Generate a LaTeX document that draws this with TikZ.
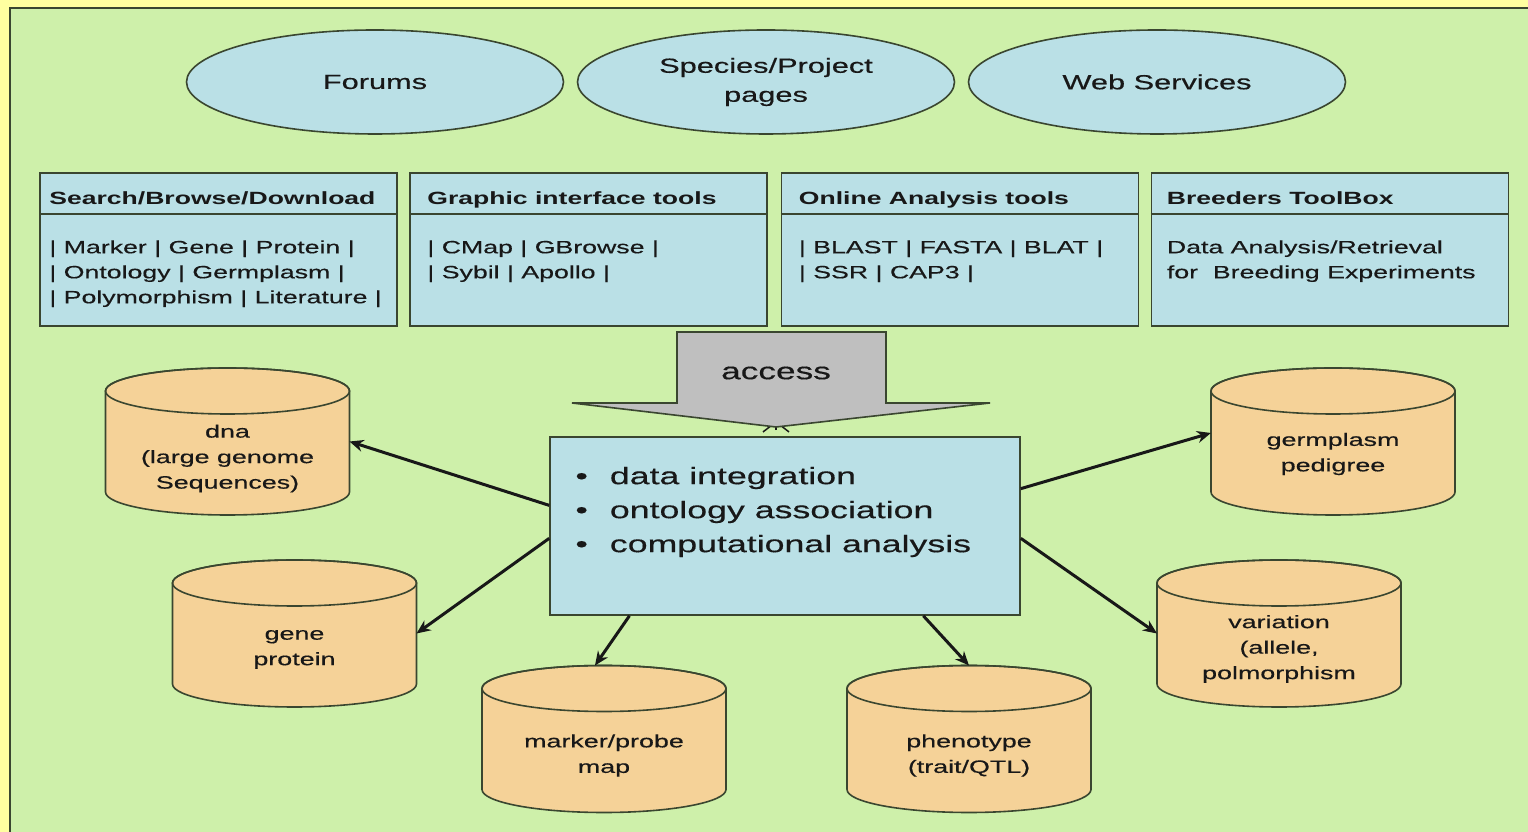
\documentclass[tikz,border=0pt]{standalone}
\usepackage{fontspec}
\setmainfont{Liberation Sans}[FakeStretch=1.5, UprightFeatures={FakeBold=0.4}]
\usepackage{tikz}
\usetikzlibrary{positioning}
\usetikzlibrary{shapes.geometric}
\usetikzlibrary{arrows.meta}
\usetikzlibrary{calc}

\definecolor{paper}{RGB}{255,255,160}
\definecolor{leaf}{RGB}{206,240,170}
\definecolor{sky}{RGB}{186,224,230}
\definecolor{sand}{RGB}{245,210,152}
\definecolor{rim}{RGB}{58,70,48}
\definecolor{ink}{RGB}{24,24,24}

% database drum: name, centre, text, text drop
\newcommand\dbcyl[4]{%
\begin{scope}[shift={(#2)}]
  \filldraw[fill=sand, draw=rim, line width=1.6pt] (-\cylR,\cylH) -- (-\cylR,-\cylH)
    arc[start angle=180, end angle=360, x radius=\cylR, y radius=\cylr] -- (\cylR,\cylH)
    arc[start angle=0, end angle=180, x radius=\cylR, y radius=\cylr] -- cycle;
  \draw[draw=rim, line width=1.6pt] (0,\cylH) ellipse[x radius=\cylR, y radius=\cylr];
\end{scope}
\node[dbbox] (#1) at (#2) {};
\node[dbtext] (#1txt) at ($(#1)+(0,-#4)$) {#3};
}

\begin{document}
\begin{tikzpicture}[x=1pt,y=1pt,
  every node/.style={text=ink},
  bubble/.style={ellipse, draw=rim, fill=sky, line width=1.6pt, minimum width=377pt,
    minimum height=104pt, inner sep=0pt, align=center, font=\fontsize{20.5}{29}\selectfont},
  panel/.style={rectangle, draw=rim, fill=sky, line width=1.6pt, minimum width=357pt,
    minimum height=153pt, inner sep=0pt},
  panelhead/.style={font=\bfseries\fontsize{17.7}{25}\selectfont, inner sep=0pt, anchor=base west},
  paneltext/.style={font=\fontsize{17.8}{25}\selectfont, inner sep=0pt, align=left, anchor=north west},
  hubbox/.style={rectangle, draw=rim, fill=sky, line width=1.6pt, minimum width=470pt,
    minimum height=178pt, inner sep=0pt},
  hubtext/.style={font=\fontsize{23.8}{34}\selectfont, align=left, inner sep=0pt, anchor=west},
  dbbox/.style={rectangle, minimum width=244pt, minimum height=147pt, inner sep=0pt, outer sep=0pt},
  dbtext/.style={font=\fontsize{17.9}{25.5}\selectfont, align=center, inner sep=0pt},
  link/.style={draw=ink, line width=3pt, -{Stealth[length=14pt,width=12pt]}}]
	%% some definitions
	\def\cylR{122} % drum radius
	\def\cylr{23} % drum lid depth
	\def\cylH{50.5} % half height of drum body
	\def\bar{42} % header rule below panel top

	\useasboundingbox (0,0) rectangle (1528,832);
	\fill[paper] (0,0) rectangle (1528,832);
	\fill[leaf] (10,824) rectangle (1528,0);
	\draw[rim, line width=2pt] (1528,824) -- (10,824) -- (10,0);

	% front pages
	\node[bubble] (forums) at (375,750) {Forums};
	\node[bubble] (species) at (766,750) {Species/Project\\pages};
	\node[bubble] (web) at (1157,750) {Web Services};

	% tool panels
	\node[panel] (search) at (218.5,582.5) {};
	\node[panel] (graphic) at (588.5,582.5) {};
	\node[panel] (online) at (960,582.5) {};
	\node[panel] (breed) at (1330,582.5) {};
	\foreach \p in {search,graphic,online,breed}
	  \draw[rim, line width=1.6pt] ($(\p.north west)+(0,-\bar)$) -- ($(\p.north east)+(0,-\bar)$);

	\node[panelhead] (searchhd) at ($(search.north west)+(10,-32)$) {Search/Browse/Download};
	\node[paneltext] (searchtx) at ($(search.north west)+(10,-68)$)
	  {| Marker | Gene | Protein |\\| Ontology | Germplasm |\\| Polymorphism | Literature |};
	\node[panelhead] (graphichd) at ($(graphic.north west)+(18,-32)$) {Graphic interface tools};
	\node[paneltext] (graphictx) at ($(graphic.north west)+(18,-68)$)
	  {| CMap | GBrowse |\\| Sybil | Apollo |};
	\node[panelhead] (onlinehd) at ($(online.north west)+(18,-32)$) {Online Analysis tools};
	\node[paneltext] (onlinetx) at ($(online.north west)+(18,-68)$)
	  {| BLAST | FASTA | BLAT |\\| SSR | CAP3 |};
	\node[panelhead] (breedhd) at ($(breed.north west)+(16,-32)$) {Breeders ToolBox};
	\node[paneltext] (breedtx) at ($(breed.north west)+(16,-68)$)
	  {Data Analysis/Retrieval\\for\ \ Breeding Experiments};

	% integration hub
	\node[hubbox] (hub) at (785,306) {};
	\node[hubtext] (hubtxt) at ($(hub.west)+(26,14)$)
	  {\textbullet\hspace{22pt}data integration\\\textbullet\hspace{22pt}ontology association\\\textbullet\hspace{22pt}computational analysis};

	% access arrow
	\coordinate (tip) at (776,411);
	\draw[draw=ink, line width=1.5pt, shorten <=6pt, -{Straight Barb[length=10pt,width=26pt]}] (tip |- hub.north) -- (tip);
	\filldraw[fill=gray!50, draw=rim, line width=1.6pt] (677,500) -- (886,500) -- (886,429) -- (990,429)
	  -- (776,405) -- (572,429) -- (677,429) -- cycle;
	\node[font=\fontsize{23.5}{28}\selectfont] (access) at (776,459) {access};

	% data stores
	\dbcyl{dna}{227.5,390.5}{dna\\(large genome\\Sequences)}{17}
	\dbcyl{gene}{294.5,198.5}{gene\\protein}{16}
	\dbcyl{marker}{604,93}{marker/probe\\map}{16.5}
	\dbcyl{pheno}{969,93}{phenotype\\(trait/QTL)}{16.5}
	\dbcyl{vari}{1279,198.5}{variation\\(allele,\\polmorphism}{15.5}
	\dbcyl{germ}{1333,390.5}{germplasm\\pedigree}{12.5}

	\draw[link] (hub.175) -- (dna.east);
	\draw[link] (hub.183) -- (gene.east);
	\draw[link] (hub.210) -- (marker.97);
	\draw[link] (hub.327) -- (pheno.north);
	\draw[link] (hub.357) -- (vari.west);
	\draw[link] (hub.9) -- (germ.176);
\end{tikzpicture}
\end{document}
